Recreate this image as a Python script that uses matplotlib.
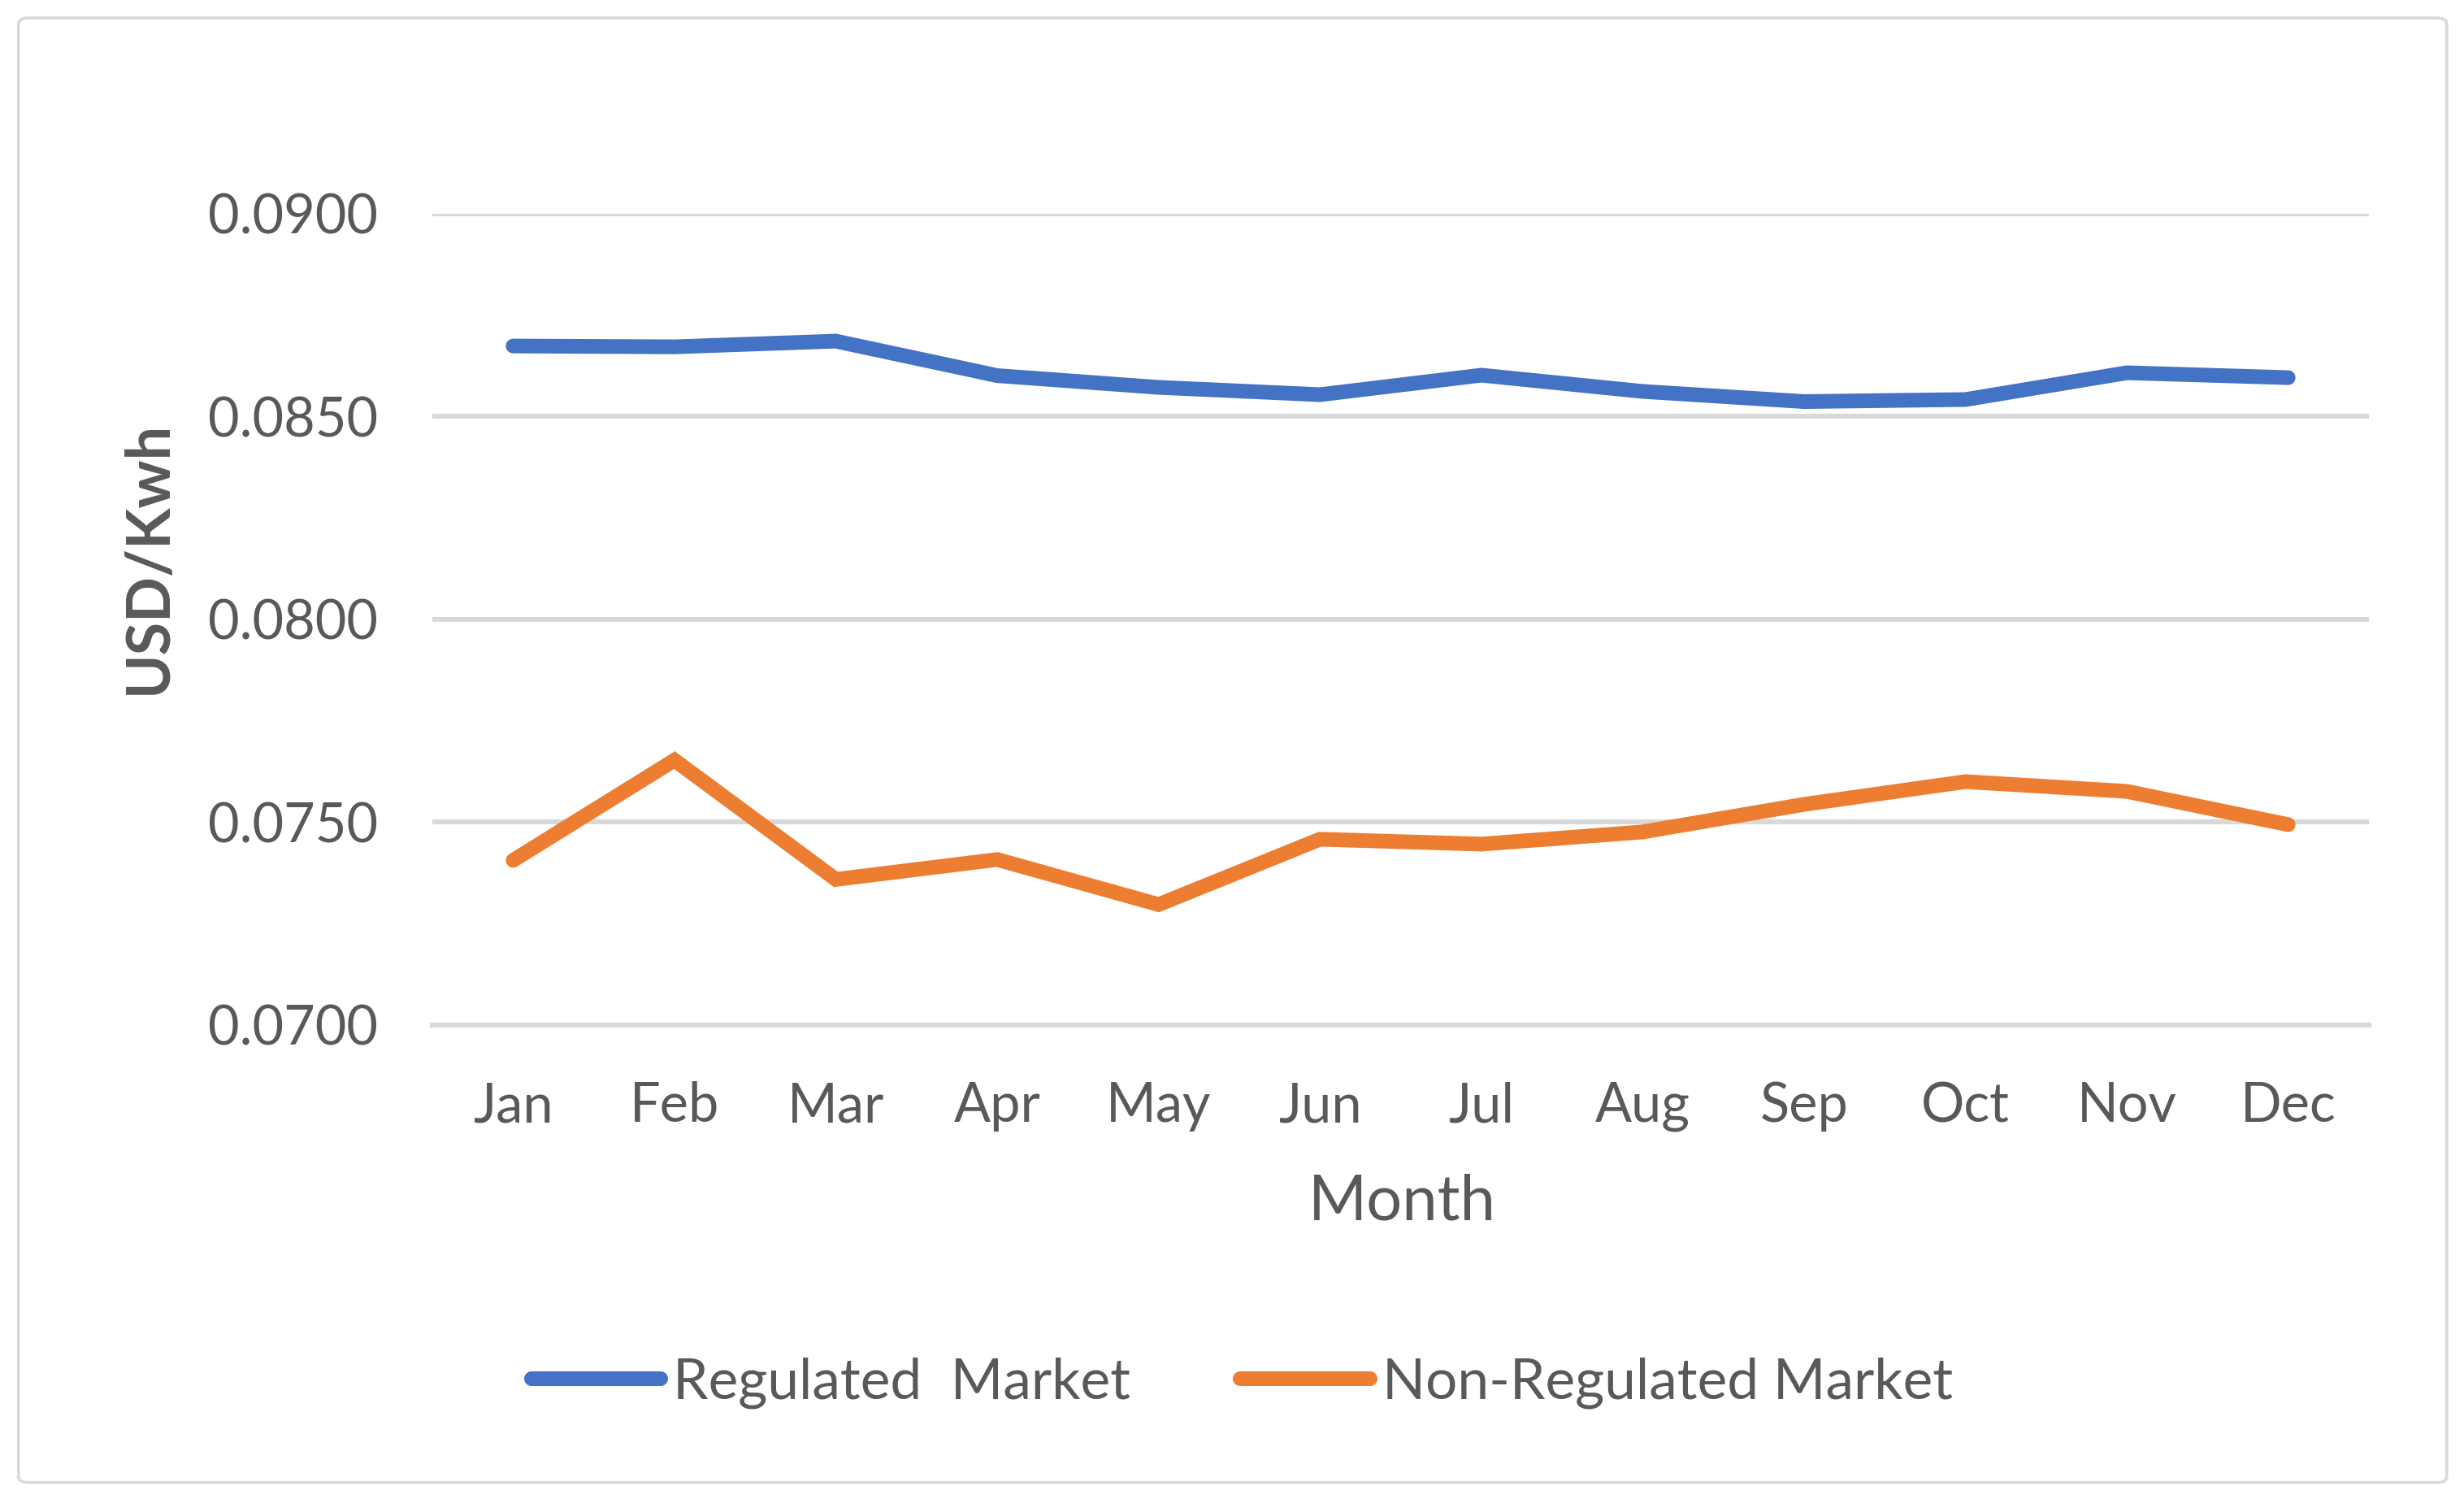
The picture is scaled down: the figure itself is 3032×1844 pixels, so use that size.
from matplotlib import pyplot as plt
from matplotlib.patches import FancyBboxPatch

import numpy as np

months = ['Jan', 'Feb', 'Mar', 'Apr', 'May', 'Jun',
          'Jul', 'Aug', 'Sep', 'Oct', 'Nov', 'Dec']
regulated = [0.08674, 0.08672, 0.08686, 0.08601, 0.08572, 0.08554,
             0.08602, 0.08562, 0.08537, 0.08542, 0.08608, 0.08596]
non_regulated = [0.07406, 0.07653, 0.07359, 0.07408, 0.07297, 0.07458,
                 0.07446, 0.07476, 0.07544, 0.07600, 0.07576, 0.07494]
yticks = [0.0700, 0.0750, 0.0800, 0.0850, 0.0900]

plt.rcParams['font.family'] = ['Lato', 'DejaVu Sans']
grey_text = '#595959'
grid_col = '#d9d9d9'

fig = plt.figure(figsize=(15.16, 9.22), dpi=200)
ax = fig.add_axes([0.1755, 0.3162, 0.7859, 0.5412])

# outer chart border
border = FancyBboxPatch((0.0075, 0.011), 0.9855, 0.977,
                        boxstyle='round,pad=0,rounding_size=0.004',
                        transform=fig.transFigure, fill=False,
                        edgecolor=grid_col, linewidth=1.3)
fig.patches.append(border)

x = np.arange(len(months))
ax.plot(x, regulated, color='#4472c4', linewidth=6.5,
        solid_capstyle='round', solid_joinstyle='miter',
        label='Regulated  Market', zorder=3)
ax.plot(x, non_regulated, color='#ed7d31', linewidth=6.5,
        solid_capstyle='round', solid_joinstyle='miter',
        label='Non-Regulated Market', zorder=3)

ax.set_xlim(-0.5, 11.5)
ax.set_ylim(0.0700, 0.0900)
ax.set_yticks(yticks)
ax.set_yticklabels(['%.4f' % v for v in yticks])
ax.set_xticks(x)
ax.set_xticklabels(months)
ax.yaxis.grid(True, color=grid_col, linewidth=2.2)
ax.set_axisbelow(True)
for s in ['top', 'right', 'left']:
    ax.spines[s].set_visible(False)
ax.spines['bottom'].set_color(grid_col)
ax.spines['bottom'].set_linewidth(2.2)
ax.tick_params(axis='both', length=0, labelsize=24, labelcolor=grey_text)
ax.tick_params(axis='y', pad=24)
ax.tick_params(axis='x', pad=25)

fig.text(0.569, 0.198, 'Month', fontsize=28, color=grey_text,
         ha='center', va='center')
fig.text(0.0606, 0.628, 'USD/Kwh', fontsize=26.5, color=grey_text,
         fontweight='bold', rotation=90, ha='center', va='center')

fig.legend(loc='center', bbox_to_anchor=(0.504, 0.0776), ncol=2,
           frameon=False, fontsize=25, labelcolor=grey_text,
           handlelength=2.3, handletextpad=0.21, columnspacing=1.95)

fig.savefig('out.png', dpi=200)
